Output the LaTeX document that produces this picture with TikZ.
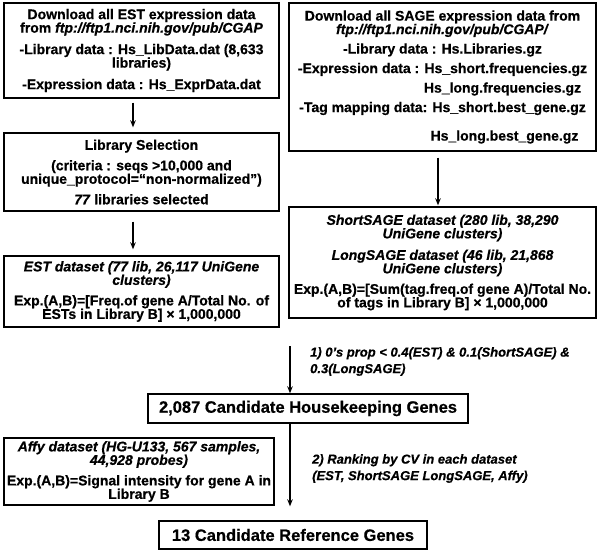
\documentclass[tikz,border=0pt]{standalone}
\usepackage{fontspec}
\setmainfont{Liberation Sans}[BoldFeatures={FakeBold=0.6},BoldItalicFeatures={FakeBold=0.6}]
\usetikzlibrary{arrows.meta}
\begin{document}
\begin{tikzpicture}[x=1pt,y=-1pt,
  box/.style={draw, line width=1.4pt, align=center, inner sep=0pt, font=\bfseries\fontsize{14}{13.5}\selectfont},
  big/.style={draw, line width=1.4pt, align=center, inner sep=0pt, font=\bfseries\fontsize{16.5}{18}\selectfont},
  conn/.style={line width=1.3pt, -{Stealth[length=7pt,width=5.5pt]}},
  lbl/.style={align=left, anchor=north west, inner sep=0pt, font=\bfseries\itshape\fontsize{13}{16.5}\selectfont}]
\useasboundingbox (0,0) rectangle (598,552);

\node[box, minimum width=275pt, minimum height=95pt] (estdl) at (141.5,50.5)
 {Download all EST expression data\\ from \textit{ftp://ftp1.nci.nih.gov/pub/CGAP}\\[8pt]
  -Library data : Hs\_LibData.dat (8,633\\ libraries)\\[8pt]
  -Expression data : Hs\_ExprData.dat};

\node[box, minimum width=275pt, minimum height=78pt] (libsel) at (141.5,172)
 {Library Selection\\[7pt]
  (criteria : seqs >10,000 and\\ unique\_protocol=“non-normalized”)\\[7pt]
  \textit{77} libraries selected};

\node[box, minimum width=275pt, minimum height=71pt] (estds) at (141.5,291.5)
 {\textit{EST dataset (77 lib, 26,117 UniGene}\\ \textit{clusters)}\\[7pt]
  Exp.(A,B)=[Freq.of gene A/Total No. of\\ ESTs in Library B] × 1,000,000};

\node[box, minimum width=307pt, minimum height=148pt] (sagedl) at (442.5,77)
 {Download all SAGE expression data from\\ \textit{ftp://ftp1.nci.nih.gov/pub/CGAP/}\\[6pt]
  -Library data : Hs.Libraries.gz\\[6pt]
  -Expression data : Hs\_short.frequencies.gz\\[6pt]
  \hspace*{120pt}Hs\_long.frequencies.gz\\[6pt]
  -Tag mapping data: Hs\_short.best\_gene.gz\\[15pt]
  \hspace*{124pt}Hs\_long.best\_gene.gz};

\node[box, minimum width=307pt, minimum height=111pt] (sageds) at (442.5,262.5)
 {\textit{ShortSAGE dataset (280 lib, 38,290}\\ \textit{UniGene clusters)}\\[8pt]
  \textit{LongSAGE dataset (46 lib, 21,868}\\ \textit{UniGene clusters)}\\[7pt]
  Exp.(A,B)=[Sum(tag.freq.of gene A)/Total No.\\ of tags in Library B] × 1,000,000};

\node[big, minimum width=320pt, minimum height=29pt] (hk) at (308,408.5)
 {2,087 Candidate Housekeeping Genes};

\node[box, minimum width=270pt, minimum height=67pt] (affy) at (139,471.5)
 {\textit{Affy dataset (HG-U133, 567 samples,}\\ \textit{44,928 probes)}\\[7pt]
  Exp.(A,B)=Signal intensity for gene A in\\ Library B};

\node[big, minimum width=268pt, minimum height=28pt] (ref) at (293,535)
 {13 Candidate Reference Genes};

\node[lbl] (l1) at (310,347) {1) 0’s prop < 0.4(EST) \& 0.1(ShortSAGE) \&\\ 0.3(LongSAGE)};
\node[lbl] (l2) at (312,454) {2) Ranking by CV in each dataset\\ (EST, ShortSAGE LongSAGE, Affy)};

\coordinate (s4) at (290,346);

\draw[conn, shorten <=4pt, shorten >=5pt] ([xshift=-8.5pt]estdl.south) -- ([xshift=-8.5pt]libsel.north);
\draw[conn, shorten <=10pt, shorten >=6pt] ([xshift=-8.5pt]libsel.south) -- ([xshift=-8.5pt]estds.north);
\draw[conn, shorten <=6pt, shorten >=1pt] ([xshift=-4.5pt]sagedl.south) -- ([xshift=-4.5pt]sageds.north);
\draw[conn] (s4) -- (s4 |- hk.north);
\draw[conn, shorten >=14pt] (s4 |- hk.south) -- (s4 |- ref.north);
\end{tikzpicture}
\end{document}
